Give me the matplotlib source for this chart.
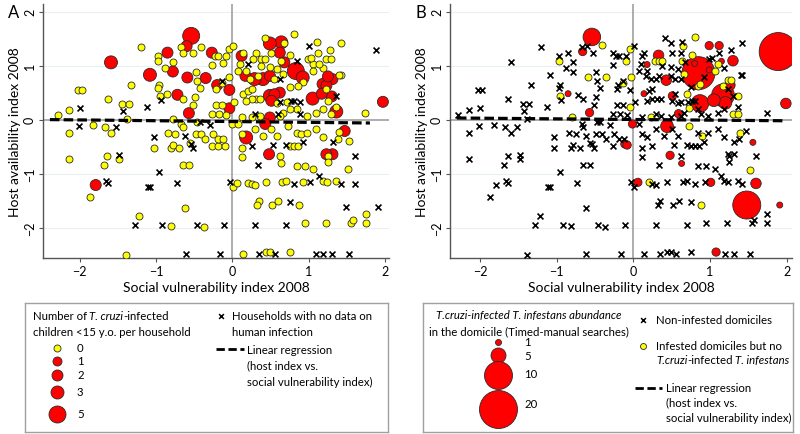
import numpy as np
import matplotlib
matplotlib.use("Agg")
from matplotlib import pyplot as plt

plt.rcParams["font.family"] = "Lato"

# ---- panel A : (social vulnerability, host availability) per household ----
# households with no data on human infection
nodata = [(-2.00, 0.21), (-2.01, -0.12), (-1.52, -0.14), (-1.43, 0.16), (-1.12, 0.23), (-0.94, 0.36),
          (-1.03, -0.32), (-0.62, -0.31), (-0.54, -0.45), (-0.51, -0.53), (-0.43, -0.05), (-0.30, -0.10),
          (-0.14, 0.72), (0.20, 1.03), (0.84, 1.09), (0.62, 0.75), (1.36, 0.44), (0.77, 0.35),
          (0.81, 0.35), (0.88, 0.32), (0.62, 0.32), (0.29, 0.10), (0.60, 0.10), (0.88, 0.10),
          (0.25, -0.48), (0.53, -0.47), (0.70, -0.47), (0.92, -0.42), (1.32, -0.42), (1.60, -0.67),
          (1.00, 1.37), (1.88, 1.28), (0.34, -0.84), (1.14, -1.05), (1.42, -1.19), (1.61, -1.19),
          (1.02, -1.16), (0.80, -1.19), (-0.03, -1.16), (0.75, -1.52), (1.49, -1.61), (1.90, -1.61),
          (-0.46, -1.95), (-0.11, -1.95), (0.29, -1.95), (0.70, -1.95), (-0.61, -2.48), (-0.16, -2.48),
          (0.35, -2.48), (0.56, -2.48), (1.09, -2.48), (1.19, -2.48), (1.31, -2.48), (1.52, -2.48),
          (-1.48, -0.66), (-1.66, -1.13), (-1.63, -1.18), (-1.11, -1.24), (-1.08, -1.24), (-0.96, -0.96),
          (-0.73, -1.18), (-1.28, -1.95), (-0.92, -1.95)]

# households with no infected children
zero = [(-2.29, 0.08), (-2.14, 0.18), (-2.14, -0.25), (-2.02, 0.55), (-1.97, 0.54), (-1.82, -0.09),
        (-1.63, 0.38), (-1.67, -0.14), (-1.59, -0.25), (-1.44, 0.29), (-1.36, 0.29), (-1.38, 0.01),
        (-1.33, 0.64), (-1.20, 1.35), (-0.97, 1.18), (-0.97, 1.08), (-0.88, 0.95), (-0.78, 1.07),
        (-0.96, 0.64), (-0.97, 0.59), (-0.95, 0.44), (-0.78, 0.02), (-0.67, 1.35), (-0.65, 1.24),
        (-0.52, 1.24), (-0.41, 1.35), (-0.48, 0.89), (-0.47, 0.72), (-0.43, 0.58), (-0.49, 0.42),
        (-0.51, 0.27), (-0.65, 0.38), (-0.67, -0.08), (-0.84, -0.24), (-0.75, -0.27), (-1.03, -0.53),
        (-0.81, -0.53), (-0.78, -0.47), (-0.70, -0.53), (-0.56, -0.44), (-0.65, -0.84), (-0.57, -0.84),
        (-0.85, 0.48), (-0.23, 1.18), (-0.19, 1.18), (-0.09, 1.18), (-0.04, 1.31), (0.01, 1.37),
        (-0.27, 1.01), (-0.12, 1.04), (-0.21, 0.56), (-0.04, 0.78), (-0.21, 0.27), (-0.14, 0.27),
        (0.02, 0.33), (-0.27, 0.11), (-0.17, 0.10), (-0.08, 0.08), (-0.01, -0.08), (0.07, -0.08),
        (-0.47, -0.05), (-0.65, -0.14), (-0.48, -0.27), (-0.41, -0.27), (-0.36, -0.36), (-0.25, -0.27),
        (-0.27, -0.48), (-0.19, -0.48), (-0.10, -0.48), (-0.19, -0.36), (-0.12, -0.36), (-0.13, 0.67),
        (0.81, 1.58), (0.67, 1.41), (0.51, 1.24), (1.11, 1.43), (1.12, 1.24), (1.23, 1.12),
        (1.29, 1.12), (1.28, 1.28), (1.42, 1.41), (1.18, 0.95), (0.42, 1.51), (1.42, 0.83),
        (1.74, 0.13), (0.14, 1.24), (0.31, 1.24), (0.27, 1.12), (0.38, 1.12), (0.42, 1.12),
        (0.10, 1.03), (0.07, 0.90), (0.18, 0.90), (0.23, 0.75), (0.33, 0.81), (0.38, 1.00),
        (0.49, 0.97), (0.58, 0.94), (0.55, 0.75), (0.75, 0.60), (0.92, 0.69), (0.99, 1.12),
        (1.05, 1.03), (1.03, 1.15), (1.14, 1.03), (1.23, 0.56), (1.40, 0.82), (1.25, 0.35),
        (1.29, 0.10), (1.36, 0.23), (1.18, 0.19), (1.10, 0.13), (0.97, 0.07), (0.84, 0.19),
        (0.75, 0.19), (0.66, 0.13), (0.62, 0.07), (0.58, 0.30), (0.71, 0.32), (0.31, 0.38),
        (0.36, 0.38), (0.25, 0.38), (0.18, 0.35), (0.14, 0.47), (0.20, 0.53), (0.25, 0.56),
        (0.12, 0.04), (0.25, 0.04), (0.36, 0.07), (0.29, -0.18), (0.51, -0.18), (0.58, -0.30),
        (0.40, -0.30), (0.12, -0.27), (0.75, -0.48), (0.81, -0.48), (0.86, -0.48), (0.84, -0.24),
        (0.90, -0.27), (0.97, -0.24), (1.10, -0.18), (1.18, -0.33), (1.38, -0.36), (1.53, -0.39),
        (0.12, -0.52), (0.12, -0.70), (0.62, -0.67), (1.25, -0.67), (0.76, 1.19), (0.64, 1.08),
        (0.66, 0.84), (1.06, 0.90), (0.86, 0.63), (0.73, -0.12), (1.39, -0.22), (1.25, -0.79),
        (0.84, -0.85), (0.95, -0.85), (1.06, -0.92), (1.51, -0.92), (0.63, -0.81), (0.01, -1.25),
        (0.06, -1.18), (0.20, -1.18), (0.25, -1.19), (0.30, -1.20), (0.44, -1.16), (0.65, -1.16),
        (0.70, -1.14), (0.93, -1.16), (1.18, -1.14), (1.24, -1.16), (1.36, -1.14), (-0.62, -1.63),
        (0.35, -1.50), (0.32, -1.58), (0.52, -1.58), (0.60, -1.50), (0.87, -1.58), (-0.37, -1.98),
        (0.95, -1.92), (1.22, -1.92), (1.55, -1.92), (1.58, -1.86), (1.75, -1.92), (0.14, -2.49),
        (0.44, -2.44), (0.49, -2.44), (0.75, -2.44), (1.75, -1.75), (-2.14, -0.72), (-1.68, -0.84),
        (-1.64, -0.68), (-1.48, -0.72), (-1.87, -1.43), (-1.22, -1.79), (-0.81, -1.97), (-1.39, -2.50)]

# households with infected children: (x, y, number of infected children)
kids = [(-1.59, 1.06, 3), (-1.08, 0.83, 3), (-0.85, 1.24, 2), (-0.78, 0.89, 2), (-0.72, 0.46, 2),
        (-0.59, 0.78, 2), (-0.60, 1.36, 2), (-0.54, 1.55, 5), (-0.57, 0.12, 2), (-0.27, 1.24, 2),
        (-0.35, 0.77, 2), (-0.20, 0.64, 2), (-0.04, 0.55, 2), (-0.04, 0.21, 2), (0.12, 1.18, 2),
        (0.17, 0.81, 2), (0.49, 1.41, 3), (0.64, 1.43, 3), (0.62, 1.24, 2), (0.68, 1.06, 2),
        (0.83, 0.90, 5), (0.92, 0.78, 3), (1.25, 0.80, 2), (1.31, 0.75, 2), (1.18, 0.66, 2),
        (1.23, 0.63, 2), (1.05, 0.39, 3), (1.17, 0.48, 2), (1.30, 0.43, 2), (1.36, 0.15, 3),
        (0.49, 0.44, 3), (0.51, 0.35, 2), (0.62, 0.50, 2), (0.55, 0.47, 2), (0.40, 0.75, 3),
        (0.49, 0.81, 2), (0.29, 0.75, 3), (0.49, 0.04, 2), (0.43, -0.08, 2), (0.18, -0.33, 3),
        (1.47, -0.21, 2), (0.48, -0.64, 2), (1.23, -0.64, 2), (1.31, -0.64, 2), (1.97, 0.33, 2),
        (-1.79, -1.21, 2)]

# ---- panel B ----
# infested domiciles but no T. cruzi-infected bugs
infested = [(-0.97, 1.08), (-0.59, 0.79), (-0.95, 0.44), (-0.80, 0.05), (-0.41, 1.38), (-0.04, 1.30),
            (-0.10, 1.08), (-0.36, 0.79), (-0.13, 0.67), (-0.03, 0.79), (-0.04, 0.23), (0.23, 0.05),
            (0.28, 1.08), (0.33, 1.08), (0.38, 1.08), (0.65, 1.36), (0.80, 1.53), (0.76, 1.19),
            (0.64, 1.08), (0.66, 0.84), (1.06, 0.90), (1.11, 1.03), (0.84, 0.62), (0.87, 0.66),
            (1.23, 0.74), (1.27, 0.73), (1.17, 0.62), (1.36, 0.44), (0.70, 0.47), (0.73, 0.21),
            (1.30, 0.11), (1.36, 0.11), (0.73, -0.12), (0.90, -0.31), (1.39, -0.24), (1.52, -0.94),
            (0.21, -1.16), (0.88, -1.58)]

# T. cruzi-infected T. infestans abundance: (x, y, bugs)
bugs = [(-0.54, 1.53, 6), (-0.66, 1.26, 2), (-0.85, 0.48, 1), (-0.57, 0.13, 2), (0.14, 0.48, 1),
        (0.18, 1.02, 1), (0.33, 1.19, 3), (0.43, 0.73, 3), (0.51, 0.44, 2), (0.59, 0.11, 2),
        (0.44, -0.12, 4), (-0.01, -0.08, 2), (-0.11, -0.45, 2), (-0.08, -0.47, 2), (0.48, -0.66, 2),
        (0.99, 1.37, 2), (1.12, 1.37, 2), (1.30, 1.09, 3), (1.15, 1.08, 1), (0.80, 1.04, 1),
        (0.99, 0.92, 1), (0.85, 0.86, 15), (1.17, 0.45, 8), (1.26, 0.64, 3), (1.05, 0.36, 4),
        (1.20, 0.31, 4), (0.87, 0.30, 6), (1.56, -0.42, 1), (1.89, 1.26, 20), (1.99, 0.30, 3),
        (0.63, -0.81, 1), (0.06, -1.16, 2), (1.01, -1.16, 2), (1.60, -1.18, 3), (1.48, -1.58, 10),
        (1.91, -1.58, 1), (1.08, -2.45, 2)]

# regression lines (slope, intercept, x range)
reg_a = (-0.015, -0.035, (-2.39, 1.80))
reg_b = (-0.012, 0.003, (-2.30, 1.96))

kid_levels = [0, 1, 2, 3, 5]
bug_levels = [1, 5, 10, 20]

# marker diameters in pixels
kid_diam = {0: 7, 1: 9, 2: 11, 3: 13, 5: 17}
bug_diam = [6, 15, 28, 38]
RED = "#ff0000"
YEL = "#ffff00"
EDGE = "#2a2a2a"


def s_px(d):
    return (d * 0.72) ** 2


def bug_size(n):
    return s_px(np.interp(n, bug_levels, bug_diam))


def style_axes(ax, xlim, letter):
    ax.set_xlim(*xlim)
    ax.set_ylim(-2.56, 2.14)
    for side in ["top", "right"]:
        ax.spines[side].set_visible(False)
    for side in ["left", "bottom"]:
        ax.spines[side].set_color("#555555")
        ax.spines[side].set_linewidth(1.0)
    ax.set_xticks([-2, -1, 0, 1, 2])
    ax.set_yticks([-2, -1, 0, 1, 2])
    ax.set_xticklabels(["\u22122", "\u22121", "0", "1", "2"])
    ax.set_yticklabels(["\u22122", "\u22121", "0", "1", "2"], rotation=90, va="center")
    ax.tick_params(direction="out", length=3, width=0.8, color="#555555", labelsize=9, pad=2)
    for yv in [-2, -1, 1, 2]:
        ax.axhline(yv, color="#eaeff2", lw=0.8, zorder=0)
    ax.axhline(0, color="#a0a0a0", lw=1.2, zorder=1)
    ax.axvline(0, color="#a0a0a0", lw=1.2, zorder=1)
    ax.set_xlabel("Social vulnerability index 2008", fontsize=10, labelpad=3)
    ax.set_ylabel("Host availability index 2008", fontsize=10, labelpad=2)
    ax.text(-0.1, 1.0, letter, transform=ax.transAxes, fontsize=12, va="top", ha="left")


def reg_line(ax, reg):
    slope, icpt, (x0, x1) = reg
    xs = np.array([x0, x1])
    ax.plot(xs, icpt + slope * xs, color="black", lw=2.3, ls=(0, (3, 1.3)), zorder=6)


fig = plt.figure(figsize=(8, 4.35), dpi=100)
axA = fig.add_axes([43 / 800, 1 - 259 / 435, 346 / 800, 254 / 435])
axB = fig.add_axes([450 / 800, 1 - 259 / 435, 342 / 800, 254 / 435])
style_axes(axA, (-2.48, 2.05), "A")
style_axes(axB, (-2.39, 2.07), "B")

# ---- panel A ----
kx, ky, kn = zip(*kids)
order = np.argsort(kn)[::-1]
axA.scatter(np.array(kx)[order], np.array(ky)[order], s=[s_px(kid_diam[kn[i]]) for i in order],
            c=RED, edgecolors=EDGE, linewidths=0.6, zorder=3)
zx, zy = zip(*zero)
axA.scatter(zx, zy, s=s_px(kid_diam[0]), c=YEL, edgecolors=EDGE, linewidths=0.6, zorder=4)
nx, ny = zip(*nodata)
axA.scatter(nx, ny, s=18, marker="x", c="black", linewidths=1.2, zorder=5)
reg_line(axA, reg_a)

# ---- panel B ----
households = np.array(nodata + zero + [(x, y) for x, y, n in kids])
taken = np.zeros(len(households), bool)
for x, y in infested + [(x, y) for x, y, n in bugs]:
    d = np.hypot(households[:, 0] - x, households[:, 1] - y)
    d[taken] = np.inf
    i = d.argmin()
    if d[i] < 0.15:
        taken[i] = True
free = households[~taken]

bx, by, bn = zip(*bugs)
order = np.argsort(bn)[::-1]
axB.scatter(np.array(bx)[order], np.array(by)[order], s=[bug_size(bn[i]) for i in order],
            c=RED, edgecolors=EDGE, linewidths=0.6, zorder=3)
ix, iy = zip(*infested)
axB.scatter(ix, iy, s=s_px(7), c=YEL, edgecolors=EDGE, linewidths=0.6, zorder=4)
axB.scatter(free[:, 0], free[:, 1], s=18, marker="x", c="black", linewidths=1.2, zorder=5)
reg_line(axB, reg_b)


# ---- legend boxes (drawn in pixel units inside each box) ----
def legend_box(x0, y0, w, h):
    ax = fig.add_axes([x0 / 800, 1 - (y0 + h) / 435, w / 800, h / 435])
    ax.set_xlim(0, w)
    ax.set_ylim(h, 0)
    ax.set_xticks([])
    ax.set_yticks([])
    for sp in ax.spines.values():
        sp.set_color("#a0a0a0")
        sp.set_linewidth(1.0)
    return ax


FS = 8.2
renderer = fig.canvas.get_renderer()


def mixed_text(ax, x, y, pieces):
    # pieces: (text, italic); None is a word space
    for txt, ital in pieces:
        if txt is None:
            x += FS * 0.27
            continue
        t = ax.text(x, y, txt, fontsize=FS, va="center", style="italic" if ital else "normal")
        x += t.get_window_extent(renderer).width


legA = legend_box(25, 304, 363, 129)
mixed_text(legA, 8, 13, [("Number of", False), (None, False), ("T. cruzi", True), ("-infected", False)])
legA.text(8, 29, "children <15 y.o. per household", fontsize=FS, va="center")
rows_a = [45, 58, 72, 89, 111]
for lvl, yy in zip(kid_levels, rows_a):
    legA.scatter([32], [yy], s=s_px(kid_diam[lvl]), c=YEL if lvl == 0 else RED,
                 edgecolors=EDGE, linewidths=0.6, clip_on=False)
    legA.text(52, yy, str(lvl), fontsize=FS, va="center")
legA.scatter([196], [13], s=12, marker="x", c="black", linewidths=1.1)
legA.text(207, 13, "Households with no data on", fontsize=FS, va="center")
legA.text(207, 29, "human infection", fontsize=FS, va="center")
legA.plot([191, 219], [46, 46], color="black", lw=2.0, ls=(0, (3, 1.3)))
legA.text(222, 46, "Linear regression", fontsize=FS, va="center")
legA.text(222, 62, "(host index vs.", fontsize=FS, va="center")
legA.text(222, 78, "social vulnerability index)", fontsize=FS, va="center")

legB = legend_box(423, 304, 370, 129)
legB.text(106, 11, "T.cruzi-infected T. infestans abundance", fontsize=FS, style="italic",
          va="center", ha="center")
legB.text(106, 28, "in the domicile (Timed-manual searches)", fontsize=FS, va="center", ha="center")
rows_b = [39, 52, 72, 106]
labs_b = [39, 53, 71, 101]
for lvl, yy, ly in zip(bug_levels, rows_b, labs_b):
    legB.scatter([75], [yy], s=bug_size(lvl), c=RED, edgecolors=EDGE, linewidths=0.6, clip_on=False)
    legB.text(101, ly, str(lvl), fontsize=FS, va="center")
legB.scatter([220], [17], s=12, marker="x", c="black", linewidths=1.1)
legB.text(233, 17, "Non-infested domiciles", fontsize=FS, va="center")
legB.scatter([220], [43], s=s_px(6), c=YEL, edgecolors=EDGE, linewidths=0.6)
legB.text(233, 42, "Infested domiciles but no", fontsize=FS, va="center")
mixed_text(legB, 233, 57, [("T.cruzi", True), ("-infected", False), (None, False), ("T. infestans", True)])
legB.plot([212, 239], [85, 85], color="black", lw=2.0, ls=(0, (3, 1.3)))
legB.text(243, 85, "Linear regression", fontsize=FS, va="center")
legB.text(243, 99, "(host index vs.", fontsize=FS, va="center")
legB.text(243, 114, "social vulnerability index)", fontsize=FS, va="center")

fig.savefig("out.png", dpi=100)
